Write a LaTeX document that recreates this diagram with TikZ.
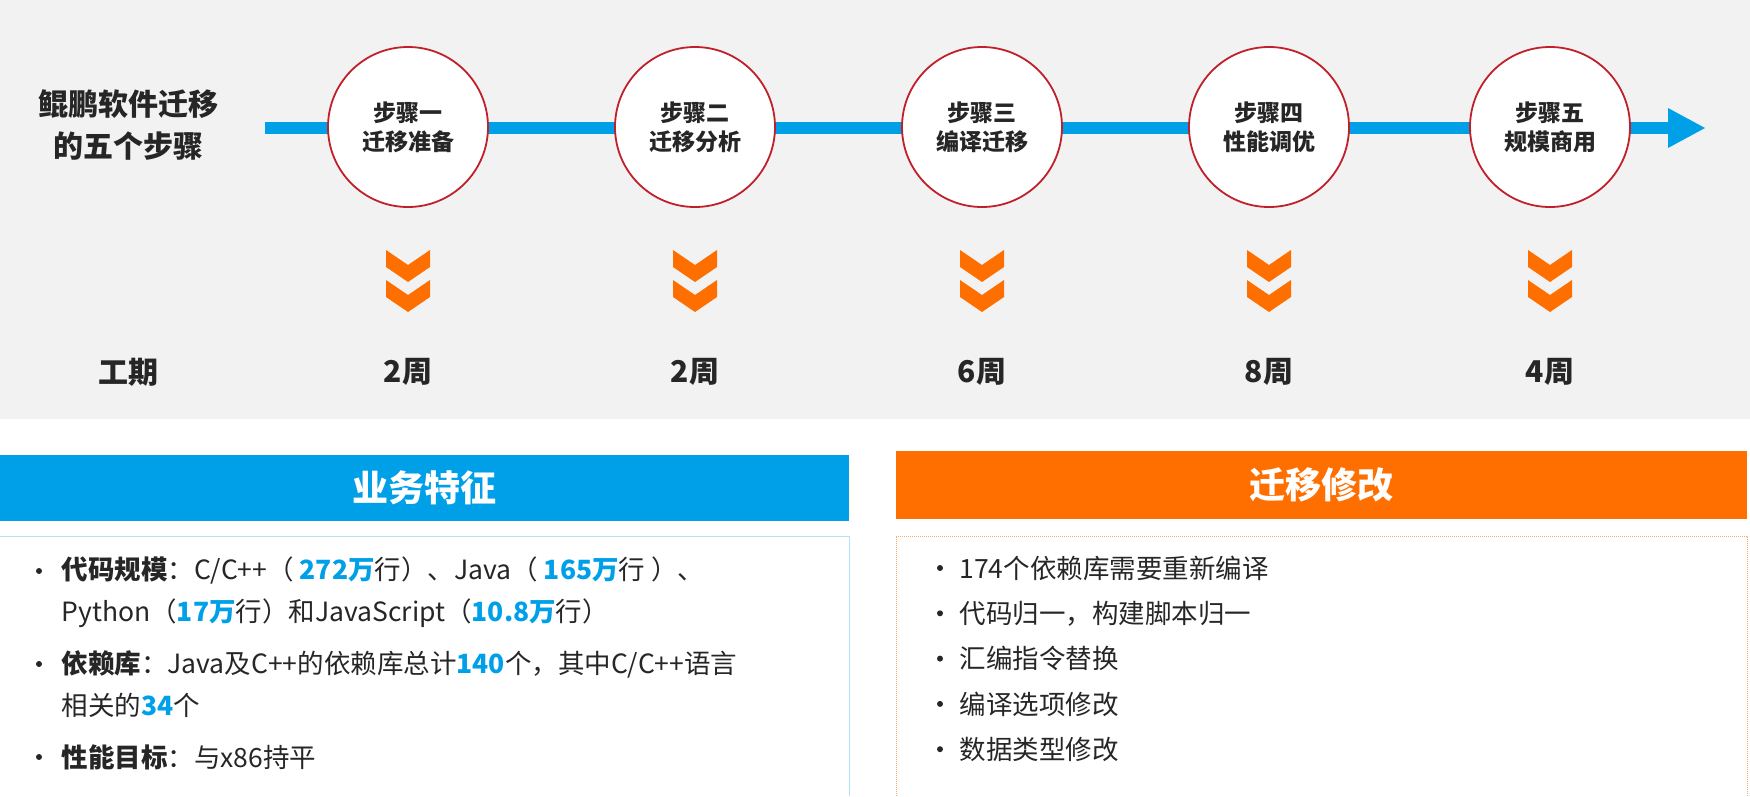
\documentclass[tikz,border=0pt]{standalone}
\usepackage{fontspec}
\setmainfont{Noto Sans CJK SC}
\definecolor{myblue}{HTML}{00A0E9}
\definecolor{myorange}{HTML}{FF6F00}
\definecolor{myred}{HTML}{C0202A}
\definecolor{mygray}{HTML}{F2F2F2}
\definecolor{txt}{HTML}{262626}
\begin{document}
\begin{tikzpicture}[x=1pt,y=-1pt,
  stepc/.style={circle,draw=myred,line width=1.8pt,fill=white,minimum size=160pt,inner sep=0pt,font=\fontsize{23}{29}\selectfont\bfseries,text=txt,align=center},
  lbl/.style={font=\fontsize{30}{42}\selectfont\bfseries,text=txt,align=center},
  hdr/.style={font=\fontsize{36}{40}\selectfont\bfseries,text=white},
  item/.style={anchor=west,font=\fontsize{26.5}{30}\selectfont,text=txt},
  bul/.style={circle,fill=txt,inner sep=0pt,minimum size=6pt},
  chev/.style={fill=myorange}]
\useasboundingbox (0,0) rectangle (1750,796);
\fill[mygray] (0,0) rectangle (1750,419);
\coordinate (as) at (265,128);
\coordinate (ae) at (1705,128);
\draw[myblue,line width=12pt] (as) -- (1675,128);
\fill[myblue] (1668,108) -- (ae) -- (1668,148) -- cycle;
\node[lbl] (title) at (128,125) {鲲鹏软件迁移\\的五个步骤};
\node[lbl] (gq) at (128,372) {工期};
\foreach \i/\x/\a/\b/\d in {1/408/步骤一/迁移准备/2周,2/695/步骤二/迁移分析/2周,3/982/步骤三/编译迁移/6周,4/1269/步骤四/性能调优/8周,5/1550/步骤五/规模商用/4周}{
  \node[stepc] (s\i) at (\x,127) {\a\\\b};
  \fill[chev] (\x-22,250) -- (\x,265) -- (\x+22,250) -- (\x+22,267) -- (\x,282) -- (\x-22,267) -- cycle;
  \fill[chev] (\x-22,280) -- (\x,295) -- (\x+22,280) -- (\x+22,297) -- (\x,312) -- (\x-22,297) -- cycle;
  \node[lbl] (d\i) at (\x,372) {\d};
}
% headers
\fill[myblue] (0,455) rectangle (849,521);
\node[hdr] (h1) at (424,488) {业务特征};
\fill[myorange] (896,451) rectangle (1747,519);
\node[hdr] (h2) at (1321,485) {迁移修改};
\draw[myblue!30,line width=1pt] (0,536) -- (849,536) -- (849,796);
\draw[myorange!60,line width=1pt,densely dotted] (896,796) -- (896,536) -- (1747,536) -- (1747,796);
% left items
\foreach \y in {571,664,757}{\node[bul] at (39,\y) {};}
\node[item] (l1) at (58,571) {\textbf{代码规模}：C/C++（ \textcolor{myblue}{\textbf{272万}}行）、Java（ \textcolor{myblue}{\textbf{165万}}行 ）、};
\node[item] (l2) at (58,613) {Python（\textcolor{myblue}{\textbf{17万}}行）和JavaScript（\textcolor{myblue}{\textbf{10.8万}}行）};
\node[item] (l3) at (58,664) {\textbf{依赖库}：Java及C++的依赖库总计\textcolor{myblue}{\textbf{140}}个，其中C/C++语言};
\node[item] (l4) at (58,705) {相关的\textcolor{myblue}{\textbf{34}}个};
\node[item] (l5) at (58,757) {\textbf{性能目标}：与x86持平};
% right items
\foreach \t [count=\k] in {174个依赖库需要重新编译,代码归一，构建脚本归一,汇编指令替换,编译选项修改,数据类型修改}{
  \pgfmathsetmacro{\yy}{568+45.3*(\k-1)}
  \node[bul] at (940,\yy) {};
  \node[item] (r\k) at (956,\yy) {\t};
}
\end{tikzpicture}
\end{document}
